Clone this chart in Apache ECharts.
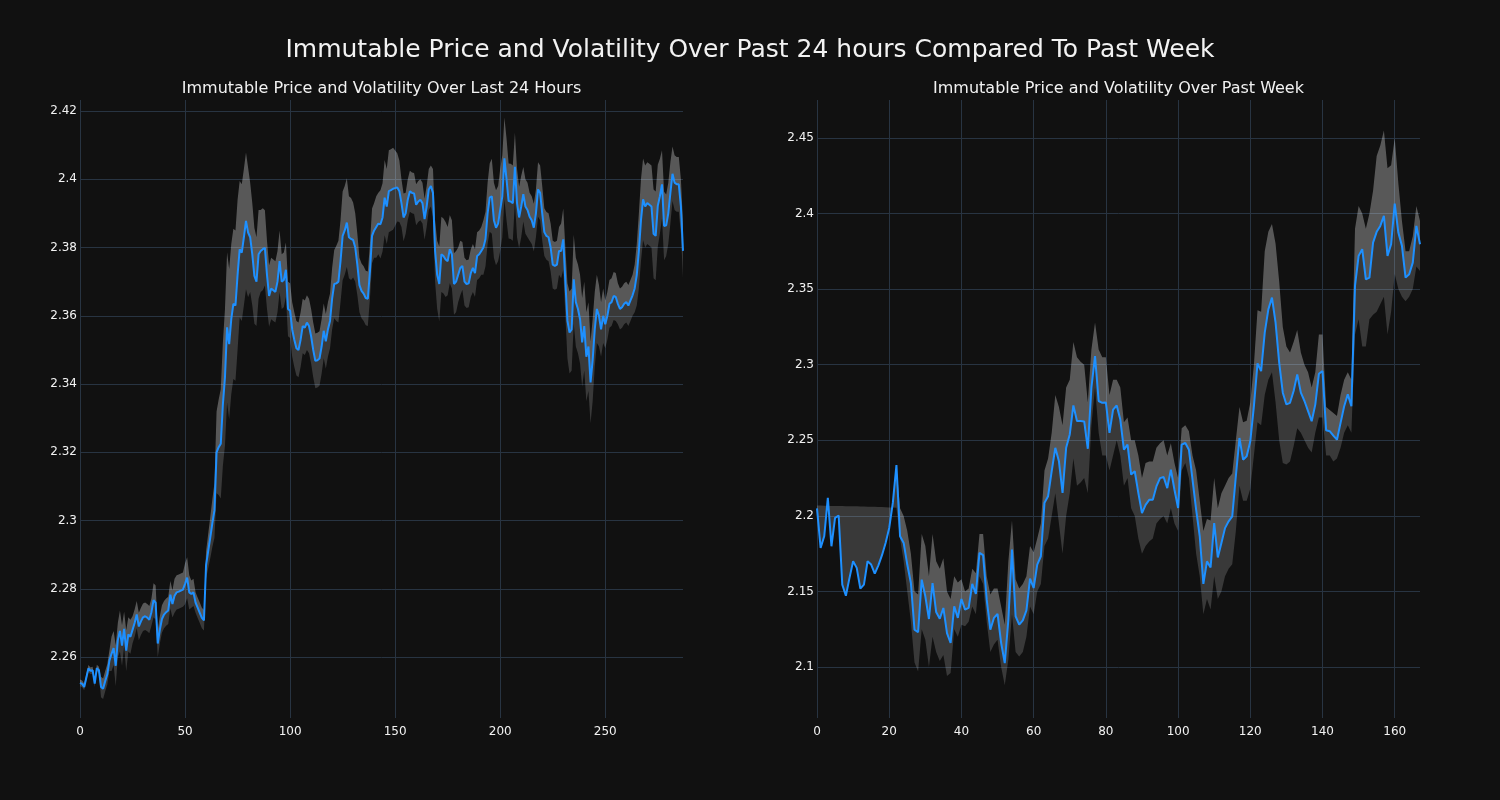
<!DOCTYPE html>
<html><head><meta charset="utf-8">
<script src="https://cdn.jsdelivr.net/npm/echarts@6/dist/echarts.min.js"></script>
<style>html,body{margin:0;padding:0;background:#111111;}#c{width:1500px;height:800px;}</style>
</head><body><div id="c"></div>
<script>
const mainTitle = 'Immutable Price and Volatility Over Past 24 hours Compared To Past Week';
const dayTitle = 'Immutable Price and Volatility Over Last 24 Hours';
const weekTitle = 'Immutable Price and Volatility Over Past Week';

const dayPrice = [
2.2525,2.2522,2.2513,2.2540,2.2567,2.2560,2.2562,2.2523,2.2568,2.2562,
2.2513,2.2508,2.2530,2.2550,2.2590,2.2610,2.2627,2.2575,2.2650,2.2677,
2.2634,2.2683,2.2619,2.2667,2.2660,2.2680,2.2700,2.2725,2.2690,2.2705,
2.2717,2.2720,2.2716,2.2710,2.2732,2.2767,2.2760,2.2640,2.2680,2.2712,
2.2725,2.2732,2.2737,2.2783,2.2756,2.2780,2.2790,2.2792,2.2795,2.2798,
2.2815,2.2833,2.2790,2.2785,2.2790,2.2760,2.2745,2.2730,2.2715,2.2708,
2.2870,2.2910,2.2950,2.2993,2.3030,2.3200,2.3215,2.3225,2.3340,2.3420,
2.3566,2.3517,2.3590,2.3635,2.3630,2.3720,2.3795,2.3785,2.3830,2.3878,
2.3844,2.3830,2.3780,2.3717,2.3700,2.3780,2.3790,2.3795,2.3799,2.3720,
2.3658,2.3680,2.3675,2.3670,2.3700,2.3760,2.3700,2.3705,2.3735,2.3620,
2.3615,2.3560,2.3530,2.3505,2.3500,2.3530,2.3570,2.3565,2.3580,2.3570,
2.3540,2.3500,2.3468,2.3470,2.3475,2.3510,2.3556,2.3525,2.3560,2.3585,
2.3650,2.3693,2.3695,2.3700,2.3760,2.3834,2.3850,2.3873,2.3830,2.3825,
2.3822,2.3800,2.3750,2.3690,2.3673,2.3665,2.3652,2.3650,2.3730,2.3834,
2.3850,2.3860,2.3870,2.3868,2.3888,2.3946,2.3920,2.3965,2.3968,2.3972,
2.3974,2.3976,2.3965,2.3930,2.3888,2.3900,2.3940,2.3965,2.3960,2.3958,
2.3925,2.3935,2.3940,2.3930,2.3883,2.3920,2.3970,2.3980,2.3960,2.3790,
2.3720,2.3693,2.3780,2.3775,2.3765,2.3760,2.3795,2.3780,2.3693,2.3700,
2.3720,2.3740,2.3746,2.3700,2.3693,2.3695,2.3725,2.3740,2.3725,2.3775,
2.3780,2.3790,2.3800,2.3825,2.3900,2.3946,2.3950,2.3880,2.3858,2.3870,
2.3910,2.3950,2.4061,2.4000,2.3936,2.3935,2.3930,2.4036,2.3930,2.3888,
2.3920,2.3956,2.3920,2.3910,2.3890,2.3880,2.3858,2.3900,2.3970,2.3960,
2.3900,2.3845,2.3834,2.3830,2.3800,2.3750,2.3746,2.3750,2.3790,2.3790,
2.3824,2.3700,2.3585,2.3551,2.3560,2.3707,2.3640,2.3620,2.3590,2.3522,
2.3570,2.3480,2.3510,2.3405,2.3470,2.3560,2.3620,2.3600,2.3560,2.3600,
2.3575,2.3600,2.3635,2.3640,2.3658,2.3655,2.3635,2.3620,2.3625,2.3635,
2.3640,2.3630,2.3645,2.3660,2.3680,2.3720,2.3790,2.3880,2.3941,2.3920,
2.3930,2.3925,2.3920,2.3840,2.3834,2.3922,2.3950,2.3985,2.3863,2.3865,
2.3900,2.3960,2.4016,2.3990,2.3985,2.3985,2.3920,2.3790
];
// band half-width around the 24h price, in thousandths
const dayBand = [
1,1,1,1,1,1,1,1,1,1,
3,3,3,3,3,
5,5,6,5,6,6,5,6,5,5,
4,4,4,4,4,4,4,4,4,4,
5,5,4,
4,4,4,4,4,4,4,5,5,5,5,5,
6,6,5,
4,4,3,3,3,3,3,
4,5,6,7,8,
12,14,16,18,
20,22,22,22,22,22,22,
20,20,20,20,19,
16,15,14,13,13,12,12,11,
10,9,9,9,9,9,9,8,8,8,8,
8,8,8,8,8,8,8,8,8,8,8,8,8,8,8,8,8,8,8,8,
9,10,11,12,12,
13,13,13,12,12,11,
10,9,8,8,8,8,8,8,
8,8,9,9,10,10,11,
11,12,12,12,11,10,9,
7,7,6,6,6,6,6,6,6,6,6,6,6,6,6,7,
9,10,11,11,11,11,10,10,10,9,9,8,
8,7,7,7,7,7,7,7,7,7,7,8,8,9,
10,11,11,11,11,12,12,12,12,11,11,11,10,10,9,9,
8,8,8,7,7,7,7,8,8,8,7,7,7,7,7,7,7,7,
8,9,10,11,
12,12,13,13,13,13,13,13,13,13,12,12,11,10,
9,8,8,7,7,7,7,7,7,6,6,6,6,6,6,6,6,7,
9,11,12,12,12,12,12,12,13,13,12,11,10,10,9,9,9,8,8,8,8,8,8
];

const weekPrice = [
2.2050,2.1788,2.1865,2.2119,2.1799,2.1987,2.2002,2.1545,2.1472,2.1590,
2.1700,2.1656,2.1519,2.1545,2.1700,2.1678,2.1618,2.1673,2.1740,2.1821,
2.1920,2.2086,2.2336,2.1865,2.1821,2.1678,2.1556,2.1247,2.1230,2.1578,
2.1468,2.1318,2.1556,2.1364,2.1320,2.1391,2.1225,2.1159,2.1402,2.1325,
2.1450,2.1380,2.1391,2.1550,2.1483,2.1755,2.1740,2.1446,2.1247,2.1325,
2.1351,2.1159,2.1026,2.1313,2.1777,2.1336,2.1280,2.1309,2.1375,2.1585,
2.1523,2.1678,2.1733,2.2086,2.2130,2.2296,2.2450,2.2362,2.2152,2.2450,
2.2539,2.2731,2.2627,2.2627,2.2625,2.2444,2.2850,2.3057,2.2760,2.2748,
2.2750,2.2549,2.2703,2.2730,2.2637,2.2438,2.2471,2.2273,2.2295,2.2151,
2.2018,2.2073,2.2106,2.2106,2.2195,2.2250,2.2257,2.2184,2.2306,2.2173,
2.2052,2.2471,2.2482,2.2438,2.2240,2.2041,2.1865,2.1550,2.1699,2.1659,
2.1953,2.1725,2.1820,2.1919,2.1964,2.1997,2.2262,2.2515,2.2372,2.2394,
2.2493,2.2726,2.3009,2.2958,2.3212,2.3366,2.3444,2.3278,2.3013,2.2815,
2.2737,2.2748,2.2826,2.2936,2.2815,2.2760,2.2693,2.2626,2.2736,2.2940,
2.2958,2.2566,2.2560,2.2531,2.2504,2.2615,2.2725,2.2804,2.2726,2.3521,
2.3720,2.3764,2.3565,2.3576,2.3808,2.3879,2.3918,2.3985,2.3720,2.3797,
2.4066,2.3874,2.3786,2.3576,2.3598,2.3675,2.3918,2.3797
];
const weekUpper = [
null,null,null,null,null,null,null,null,null,null,
null,null,null,null,null,null,null,null,null,null,
null,null,null,
2.205,2.200,2.190,2.175,2.150,2.148,2.188,
2.180,2.160,2.188,2.170,2.165,2.172,2.150,2.145,2.160,2.156,
2.158,2.150,2.152,2.165,2.162,2.188,2.188,2.160,2.148,2.152,
2.152,2.140,2.128,2.170,2.197,2.158,2.152,2.155,2.160,2.180,
2.176,2.185,2.195,2.230,2.238,2.255,2.280,2.272,2.260,2.285,
2.290,2.315,2.305,2.302,2.300,2.275,2.310,2.328,2.310,2.305,
2.305,2.280,2.290,2.290,2.285,2.262,2.265,2.250,2.250,2.240,
2.225,2.235,2.236,2.236,2.245,2.248,2.250,2.240,2.248,2.235,
2.225,2.258,2.260,2.256,2.240,2.230,2.210,2.190,2.198,2.197,
2.225,2.205,2.215,2.220,2.225,2.228,2.250,2.272,2.262,2.263,
2.275,2.300,2.336,2.335,2.375,2.388,2.393,2.380,2.355,2.325,
2.312,2.308,2.315,2.323,2.308,2.300,2.295,2.285,2.295,2.320,
2.320,2.272,2.270,2.268,2.266,2.280,2.290,2.295,2.290,2.390,
2.405,2.400,2.390,2.400,2.415,2.438,2.445,2.455,2.430,2.432,
2.450,2.420,2.395,2.375,2.375,2.385,2.405,2.395
];
const weekLower = [
2.2068,2.2068,2.2067,2.2067,2.2066,2.2066,2.2065,2.2065,2.2064,2.2064,
2.2063,2.2063,2.2062,2.2062,2.2061,2.2061,2.2060,2.2059,2.2058,2.2057,
2.2056,2.2055,2.2054,
2.185,2.170,2.150,2.130,2.103,2.097,2.125,
2.118,2.100,2.120,2.110,2.104,2.108,2.094,2.096,2.125,2.120,
2.128,2.127,2.130,2.140,2.135,2.160,2.155,2.130,2.110,2.115,
2.118,2.100,2.088,2.105,2.135,2.110,2.107,2.110,2.120,2.140,
2.135,2.150,2.155,2.180,2.185,2.200,2.215,2.195,2.175,2.200,
2.215,2.238,2.220,2.222,2.225,2.215,2.260,2.285,2.255,2.240,
2.240,2.230,2.240,2.250,2.240,2.220,2.225,2.205,2.200,2.185,
2.175,2.180,2.183,2.185,2.195,2.198,2.200,2.195,2.205,2.195,
2.190,2.230,2.235,2.225,2.200,2.175,2.160,2.135,2.145,2.138,
2.160,2.145,2.150,2.160,2.165,2.168,2.190,2.220,2.210,2.210,
2.218,2.240,2.262,2.260,2.280,2.290,2.295,2.275,2.250,2.235,
2.234,2.236,2.246,2.258,2.255,2.250,2.245,2.242,2.255,2.265,
2.265,2.240,2.240,2.236,2.238,2.245,2.255,2.260,2.255,2.320,
2.330,2.312,2.312,2.330,2.333,2.335,2.340,2.345,2.320,2.335,
2.360,2.350,2.345,2.342,2.345,2.350,2.365,2.362
];

const dayTicksX = [0, 50, 100, 150, 200, 250];
const dayTicksY = [2.26, 2.28, 2.3, 2.32, 2.34, 2.36, 2.38, 2.4, 2.42];
const weekTicksX = [0, 20, 40, 60, 80, 100, 120, 140, 160];
const weekTicksY = [2.1, 2.15, 2.2, 2.25, 2.3, 2.35, 2.4, 2.45];

const dayUpper = dayPrice.map((p, i) => p + dayBand[i] / 1000);
const dayLower = dayPrice.map((p, i) => p - dayBand[i] / 1000);
const weekUp = weekUpper.map((u, i) => (u === null ? weekPrice[i] : u));

const GRID = '#283442';
const TXT = '#f2f2f2';
const FONT = 'DejaVu Sans';
const fmt = v => String(Number(Number(v).toFixed(4)));

function xAxis(idx, max, ticks) {
  return {
    type: 'value', gridIndex: idx, min: 0, max: max,
    axisLine: { show: false },
    axisTick: { show: false, customValues: ticks },
    axisLabel: { customValues: ticks, color: TXT, fontFamily: FONT, fontSize: 12, margin: 8, formatter: fmt },
    splitLine: { show: true, lineStyle: { color: GRID, width: 1 } }
  };
}
function yAxis(idx, min, max, ticks) {
  return {
    type: 'value', gridIndex: idx, min: min, max: max, scale: true,
    axisLine: { show: false },
    axisTick: { show: false, customValues: ticks },
    axisLabel: { customValues: ticks, color: TXT, fontFamily: FONT, fontSize: 12, margin: 3, formatter: fmt },
    splitLine: { show: true, lineStyle: { color: GRID, width: 1 } }
  };
}
// band polygons drawn once through the axis scales (api.coord)
function bandSeries(idx, price, upper, lower) {
  const render = (params, api) => {
    if (params.dataIndex !== 0) return null;
    const n = price.length;
    const P = [], U = [], L = [];
    for (let i = 0; i < n; i++) {
      P.push(api.coord([i, price[i]]));
      U.push(api.coord([i, upper[i]]));
      L.push(api.coord([i, lower[i]]));
    }
    const light = U.concat(P.slice().reverse());
    const dark = P.concat(L.slice().reverse());
    return {
      type: 'group',
      children: [
        { type: 'polygon', shape: { points: dark }, style: { fill: 'rgba(255,255,255,0.17)' } },
        { type: 'polygon', shape: { points: light }, style: { fill: 'rgba(255,255,255,0.30)' } }
      ]
    };
  };
  return [
    { type: 'custom', xAxisIndex: idx, yAxisIndex: idx, silent: true, animation: false, clip: true,
      renderItem: render, data: price.map((p, i) => [i, p]), z: 2 },
    { type: 'line', xAxisIndex: idx, yAxisIndex: idx, symbol: 'none', silent: true, animation: false,
      data: price.map((p, i) => [i, p]), lineStyle: { color: '#1e90ff', width: 2 }, z: 5 }
  ];
}

const chart = echarts.init(document.getElementById('c'), null, { renderer: 'canvas' });
chart.setOption({
  backgroundColor: '#111111',
  animation: false,
  graphic: [
    { type: 'text', x: 750, y: 50, style: { text: mainTitle, fill: TXT, font: '25px "DejaVu Sans"', textAlign: 'center', textVerticalAlign: 'middle' } },
    { type: 'text', x: 381.5, y: 89, style: { text: dayTitle, fill: TXT, font: '16px "DejaVu Sans"', textAlign: 'center', textVerticalAlign: 'middle' } },
    { type: 'text', x: 1118.5, y: 89, style: { text: weekTitle, fill: TXT, font: '16px "DejaVu Sans"', textAlign: 'center', textVerticalAlign: 'middle' } }
  ],
  grid: [
    { left: 80, top: 100, width: 603, height: 618 },
    { left: 817, top: 100, width: 603, height: 618 }
  ],
  xAxis: [xAxis(0, 287, dayTicksX), xAxis(1, 167, weekTicksX)],
  yAxis: [yAxis(0, 2.2422, 2.4232, dayTicksY), yAxis(1, 2.0663, 2.4751, weekTicksY)],
  series: [].concat(bandSeries(0, dayPrice, dayUpper, dayLower), bandSeries(1, weekPrice, weekUp, weekLower))
});
</script></body></html>
